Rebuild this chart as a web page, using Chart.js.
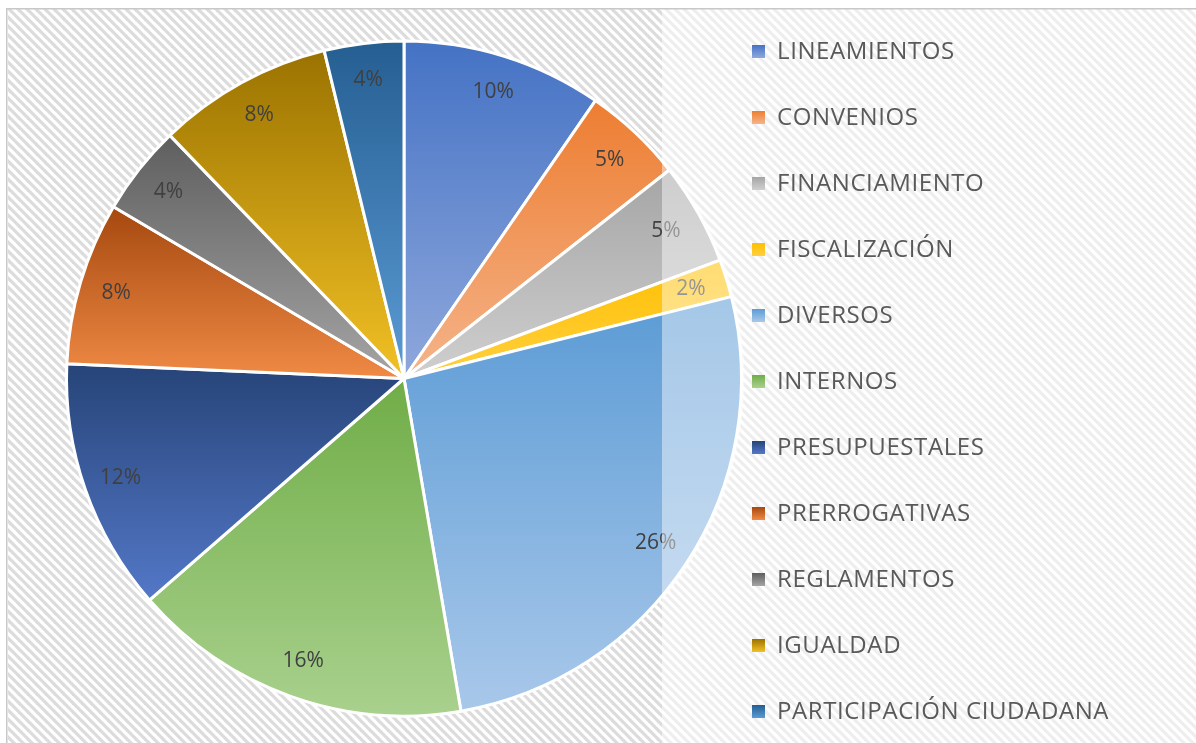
<!DOCTYPE html>
<html>
<head>
<meta charset="utf-8">
<script src="https://cdn.jsdelivr.net/npm/chart.js@4.4.1/dist/chart.umd.min.js"></script>
<style>
  body { margin: 0; background: #fff; }
  #wrap { width: 1196px; height: 743px; }
</style>
</head>
<body>
<div id="wrap"><canvas id="chart"></canvas></div>
<script>
const categories = ['LINEAMIENTOS', 'CONVENIOS', 'FINANCIAMIENTO', 'FISCALIZACIÓN', 'DIVERSOS', 'INTERNOS',
    'PRESUPUESTALES', 'PRERROGATIVAS', 'REGLAMENTOS', 'IGUALDAD', 'PARTICIPACIÓN CIUDADANA'];
const values = [9.6, 4.8, 4.9, 1.8, 26.2, 16.3, 12.1, 7.8, 4.3, 8.4, 3.8];
const topColors = ['#4472C4', '#ED7D31', '#A5A5A5', '#FFC000', '#5B9BD5', '#70AD47',
    '#264478', '#A5480F', '#5E5E5E', '#9A7200', '#255E91'];
const bottomColors = ['#8FA8DC', '#F5B48A', '#CFCFCF', '#FFCF40', '#A9C8EA', '#A9D18E',
    '#5478C8', '#F08A45', '#A5A5A5', '#F2C125', '#5B9BD5'];

const overlayX = 662;

// vertical gradient over the bounding box of each slice
const sliceGradient = (context) => {
    const i = context.dataIndex;
    const chart = context.chart;
    const area = chart.chartArea;
    if (!area) return topColors[i];
    const cx = (area.left + area.right) / 2;
    const cy = (area.top + area.bottom) / 2;
    const r = Math.min(area.right - area.left, area.bottom - area.top) / 2;
    const total = values.reduce((a, b) => a + b, 0);
    let before = 0;
    for (let k = 0; k < i; k++) before += values[k];
    const a0 = -Math.PI / 2 + before / total * Math.PI * 2;
    const a1 = a0 + values[i] / total * Math.PI * 2;
    const ys = [cy, cy + Math.sin(a0) * r, cy + Math.sin(a1) * r];
    [-Math.PI / 2, Math.PI / 2, Math.PI * 1.5].forEach(a => {
        if (a > a0 && a < a1) ys.push(cy + Math.sin(a) * r);
    });
    const y0 = Math.min(...ys), y1 = Math.max(...ys);
    const g = chart.ctx.createLinearGradient(0, y0, 0, Math.max(y1, y0 + 1));
    g.addColorStop(0, topColors[i]);
    g.addColorStop(1, bottomColors[i]);
    return g;
};

const makeHatch = (ctx, color) => {
    const c = document.createElement('canvas');
    c.width = 9; c.height = 9;
    const t = c.getContext('2d');
    t.fillStyle = '#fff';
    t.fillRect(0, 0, 9, 9);
    t.strokeStyle = color;
    t.lineWidth = 3.2;
    [[-9, 0], [0, 0], [9, 0]].forEach(([ox]) => {
        t.beginPath();
        t.moveTo(ox - 1, -1);
        t.lineTo(ox + 10, 10);
        t.stroke();
    });
    return ctx.createPattern(c, 'repeat');
};

const backgroundPlugin = {
    id: 'background',
    beforeDraw(chart) {
        const ctx = chart.ctx;
        ctx.save();
        ctx.fillStyle = '#fff';
        ctx.fillRect(0, 0, chart.width, chart.height);
        ctx.fillStyle = makeHatch(ctx, '#dcdcdc');
        ctx.fillRect(8, 9, chart.width - 8, chart.height - 9);
        ctx.fillStyle = 'rgba(255,255,255,0.5)';
        ctx.fillRect(overlayX, 9, chart.width - overlayX, chart.height - 9);
        ctx.fillStyle = '#c8c8c8';
        ctx.fillRect(6, 8, chart.width - 6, 1.5);
        ctx.fillRect(6, 8, 1.5, chart.height - 8);
        ctx.restore();
    }
};

const labelPlugin = {
    id: 'sliceLabels',
    afterDatasetsDraw(chart) {
        const ctx = chart.ctx;
        const meta = chart.getDatasetMeta(0);
        const total = values.reduce((a, b) => a + b, 0);
        ctx.save();
        ctx.font = '21px "Open Sans"';
        ctx.fillStyle = '#404040';
        ctx.textAlign = 'center';
        ctx.textBaseline = 'middle';
        meta.data.forEach((arc, i) => {
            const p = arc.getProps(['x', 'y', 'startAngle', 'endAngle', 'outerRadius'], true);
            const mid = (p.startAngle + p.endAngle) / 2;
            const d = p.outerRadius * 0.89;
            ctx.fillText(Math.round(values[i] / total * 100) + '%',
                p.x + Math.cos(mid) * d, p.y + Math.sin(mid) * d);
        });
        // legend panel lies over the right part of the pie
        const p = meta.data[0].getProps(['x', 'y', 'outerRadius'], true);
        ctx.beginPath();
        ctx.arc(p.x, p.y, p.outerRadius + 3, 0, Math.PI * 2);
        ctx.clip();
        ctx.fillStyle = 'rgba(255,255,255,0.45)';
        ctx.fillRect(overlayX, 0, chart.width - overlayX, chart.height);
        ctx.restore();
    }
};

const legendPlugin = {
    id: 'sideLegend',
    afterDraw(chart) {
        const ctx = chart.ctx;
        ctx.save();
        ctx.font = '24px "Open Sans"';
        ctx.letterSpacing = '0.6px';
        ctx.textBaseline = 'middle';
        categories.forEach((name, i) => {
            const y = 51 + i * 66;
            const g = ctx.createLinearGradient(0, y - 6, 0, y + 7);
            g.addColorStop(0, topColors[i]);
            g.addColorStop(1, bottomColors[i]);
            ctx.fillStyle = g;
            ctx.fillRect(752, y - 6, 13, 13);
            ctx.fillStyle = '#595959';
            ctx.fillText(name, 777, y + 1);
        });
        ctx.restore();
    }
};

window.onload = () => {
    const ctx = document.getElementById('chart').getContext('2d');
    new Chart(ctx, {
        type: 'pie',
        data: {
            labels: categories,
            datasets: [{
                data: values,
                backgroundColor: sliceGradient,
                borderColor: '#ffffff',
                borderWidth: 3
            }]
        },
        options: {
            responsive: true,
            maintainAspectRatio: false,
            animation: false,
            layout: {
                padding: { left: 65, top: 39, right: 453, bottom: 25 }
            },
            plugins: {
                legend: { display: false },
                tooltip: { enabled: false }
            }
        },
        plugins: [backgroundPlugin, labelPlugin, legendPlugin]
    });
};
</script>
</body>
</html>
